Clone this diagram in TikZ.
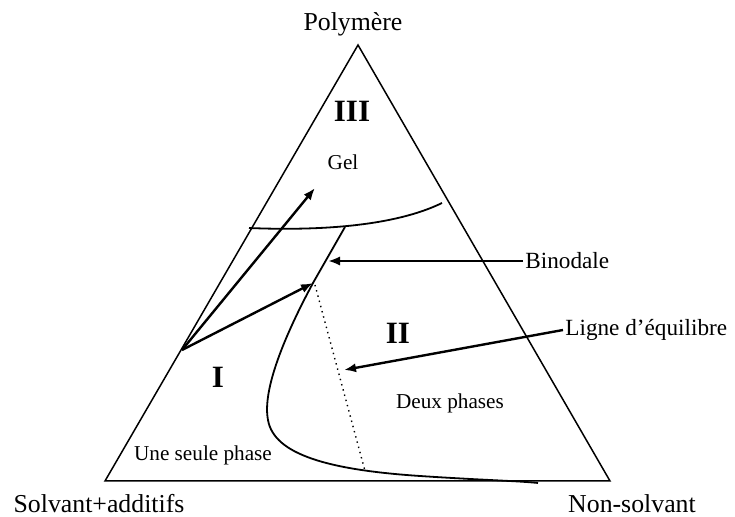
\documentclass[tikz,border=0pt]{standalone}
\usepackage{fontspec}
\setmainfont{Liberation Serif}
\usetikzlibrary{arrows.meta}

\tikzset{
    lbl/.style={font=\fontsize{12.9}{15}\selectfont, inner sep=1pt},
    note/.style={font=\fontsize{11.6}{14}\selectfont, inner sep=1pt},
    petit/.style={font=\fontsize{10.6}{12}\selectfont, inner sep=1pt},
    zone/.style={font=\fontsize{15.5}{18}\selectfont\bfseries, inner sep=1pt},
    fleche/.style={-{Latex[length=6pt,width=4.6pt]}, line width=1.2pt},
}

\begin{document}
\begin{tikzpicture}[x=0.5pt, y=-0.5pt]
        \useasboundingbox (0,0) rectangle (735,517);

        % -- corners of the ternary diagram --
        \coordinate (S) at (105,481);
        \coordinate (N) at (610,481);
        \coordinate (P) at (358,45);
        \draw[line width=0.75pt, line join=miter] (S) -- (N) -- (P) -- cycle;

        % -- vertex labels --
        \node[lbl] (poly) at (353,24)  {Polymère};
        \node[lbl] (solv) at (99,504)  {Solvant+additifs};
        \node[lbl] (nons) at (632,504) {Non-solvant};

        % -- binodale: top end, down past the tie line, round the bottom --
        \coordinate (tipA) at (313,283);
        \draw[line width=0.9pt]
            (345,227) -- (tipA) .. controls (285,335) and (262,390) ..
            (268,420) .. controls (274,455) and (330,470) ..
            (420,476) .. controls (480,480) and (520,481) .. (538,483);

        % -- gel boundary --
        \draw[line width=0.9pt]
            (249,228) .. controls (320,231) and (395,226) .. (442,203);

        % -- tie line (dotted) --
        \coordinate (tieB) at (365,471);
        \draw[dotted, line width=0.7pt] (315,285) -- (tieB);

        % -- two paths from the left edge --
        \coordinate (src) at (182,350);
        \coordinate (tipG) at (315,188);
        \draw[fleche] (src) -- (tipG);
        \draw[fleche] (src) -- (tipA);

        % -- region labels --
        \node[zone]  (z3)   at (352,111) {III};
        \node[petit] (gel)  at (343,162) {Gel};
        \node[zone]  (z2)   at (398,333) {II};
        \node[zone]  (z1)   at (218,377) {I};
        \node[petit] (deux) at (450,403) {Deux phases};
        \node[petit] (une)  at (203,455) {Une seule phase};

        % -- annotations with arrows --
        \node[note, anchor=west] (bino) at (523,261) {Binodale};
        \coordinate (tipB) at (328,261);
        \draw[fleche] (bino.west) -- (tipB);

        \node[note, anchor=west] (ligne) at (563,330) {Ligne d’équilibre};
        \coordinate (tipL) at (344,370);
        \draw[fleche] (ligne.west) -- (tipL);

    \end{tikzpicture}
\end{document}
